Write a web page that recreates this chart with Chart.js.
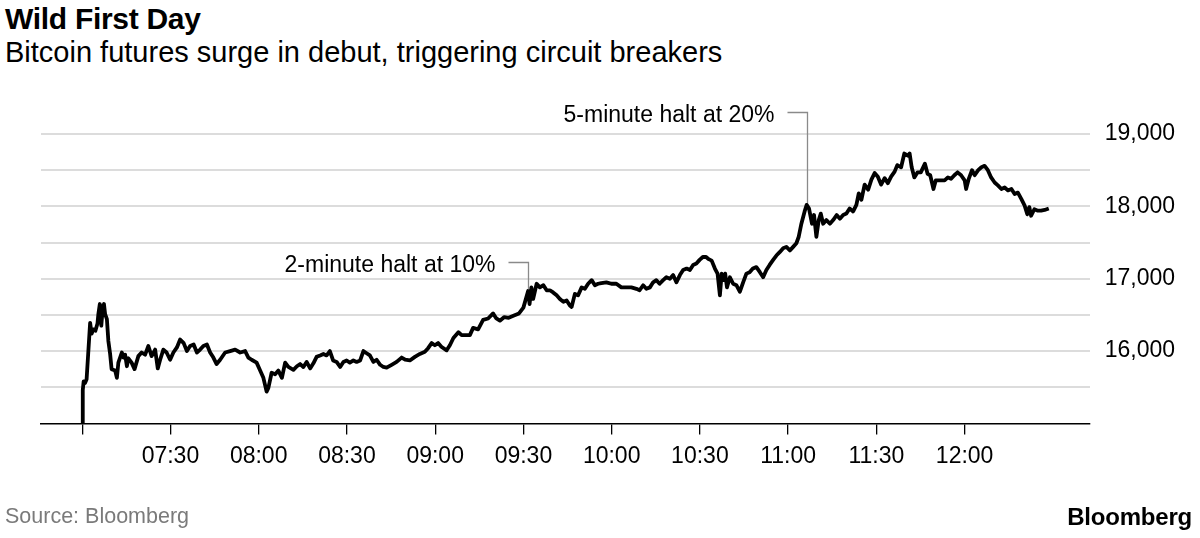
<!DOCTYPE html>
<html>
<head>
<meta charset="utf-8">
<script src="https://cdn.jsdelivr.net/npm/chart.js@4.4.1/dist/chart.umd.min.js"></script>
<style>
    body { margin: 0; width: 1200px; height: 538px; position: relative; background: #fff; font-family: "Liberation Sans", Arial, sans-serif; overflow: hidden; }
    #chart { position: absolute; left: 0; top: 0; }
    .txt { position: absolute; white-space: nowrap; }
    #title { left: 5px; top: 2px; font-size: 30px; font-weight: bold; color: #000; letter-spacing: -0.3px; }
    #subtitle { left: 5px; top: 36px; font-size: 29px; color: #000; }
    #source { left: 5px; top: 504px; font-size: 21.5px; color: #7a7a7a; }
    #logo { right: 8px; top: 503px; font-size: 24px; font-weight: bold; color: #000; letter-spacing: -0.2px; }
</style>
</head>
<body>
<div class="txt" id="title">Wild First Day</div>
<div class="txt" id="subtitle">Bitcoin futures surge in debut, triggering circuit breakers</div>
<canvas id="chart" width="1200" height="538"></canvas>
<div class="txt" id="source">Source: Bloomberg</div>
<div class="txt" id="logo">Bloomberg</div>
<script>
// minutes after 07:00
const minutes = [
    0, 0.2, 0.5, 1, 1.5, 2.1, 2.7, 3.2, 3.8, 4.5, 5.2, 5.5, 6, 6.5, 7, 7.4, 7.8, 8.4, 8.9, 9.5,
    10, 11.2, 11.8, 12.3, 13.5, 14, 14.6, 15.2, 15.7, 16.8, 17.8, 19.1, 20.2, 21.4, 22.5, 23.6, 24.8, 25.7, 26.5, 27.6,
    28.7, 29.9, 31, 32.2, 33.3, 34.5, 35.6, 36.7, 37.9, 39, 40.1, 41.2, 42.4, 43.5, 44.6, 45.7, 46.9, 48.6, 50.3, 52,
    53.7, 55.4, 56.5, 57.6, 59.3, 60.5, 61.6, 62.7, 63.3, 64.4, 65.6, 66.7, 67.9, 69, 70.1, 71.8, 73, 74.1, 75.2, 76.3,
    77.5, 78.6, 79.7, 80.9, 82, 83.1, 84.2, 85.3, 86.5, 87.7, 88.8, 89.9, 91, 92.2, 93.3, 94.5, 95.6, 96.7, 97.8, 99,
    100.1, 101.3, 102.4, 103.5, 105.2, 106.9, 108.6, 109.8, 111.4, 113.1, 114.8, 116.5, 117.6, 118.8, 119.9, 121, 122.1, 123.9, 125, 126.2,
    127.9, 129, 130.7, 131.8, 132.9, 134.6, 136.3, 138, 139.7, 140.8, 142, 143.5, 145, 146.8, 148.5, 150, 151.6, 152.1, 152.7, 153.3,
    154.5, 155.6, 156.8, 157.9, 159, 160.1, 161.3, 162.4, 163.6, 164.7, 165.8, 166.4, 167.5, 168.6, 169.8, 170.9, 172, 173.2, 174.3, 175.4,
    176.5, 178.2, 179.9, 181.6, 183.3, 185, 186.7, 188.4, 189.5, 190.7, 191.8, 193, 194.1, 195.2, 196.3, 197.5, 198.6, 199.8, 200.9, 202,
    203.2, 204.3, 205.5, 206.6, 207.7, 208.8, 209.9, 211, 212.1, 213, 214, 215.1, 216, 216.8, 217.4, 218, 218.6, 219.2, 220.2, 221.3,
    222.4, 223.6, 224.7, 225.8, 226.9, 228, 229.2, 230.4, 231.5, 232.6, 233.7, 234.9, 236, 237.2, 238.3, 239.4, 240.6, 241.7, 242.8, 243.6,
    244.5, 245.6, 246.3, 247.1, 248.1, 248.8, 249.6, 250.4, 251.1, 251.9, 253, 254.2, 255.3, 256.5, 257.6, 258.7, 259.8, 260.9, 262.1, 263.2,
    264, 264.9, 266, 267.2, 268.3, 269.4, 270.5, 271.6, 272.8, 273.9, 275, 276.2, 277.1, 278.4, 279.5, 280.7, 281.3, 282, 282.9, 284,
    285.1, 286.5, 287.4, 288.3, 289.4, 290.2, 291.5, 293.2, 294.3, 295.4, 296.5, 297.6, 298.8, 300, 300.5, 301.4, 302.5, 303.4, 304.6, 305.7,
    306.8, 307.9, 309, 310.2, 311.3, 312.5, 313.6, 314.7, 315.9, 317, 318.1, 319.3, 320.4, 321.3, 322, 322.6, 323.7, 324.9, 326, 327.2,
    328.6
];
const prices = [
    15000, 15460, 15580, 15560, 15610, 16000, 16390, 16240, 16300, 16280, 16380, 16510, 16650, 16350, 16600, 16650, 16510, 16440, 16140, 15960,
    15750, 15730, 15630, 15840, 15980, 15910, 15950, 15790, 15900, 15840, 15750, 15930, 15980, 15950, 16070, 15930, 16020, 15760, 15880, 16020,
    15980, 15880, 15980, 16050, 16160, 16110, 16000, 16070, 16090, 15980, 16020, 16070, 16090, 15980, 15910, 15820, 15880, 15980, 16000, 16020,
    15980, 16000, 15910, 15880, 15840, 15730, 15630, 15440, 15490, 15700, 15680, 15730, 15630, 15840, 15780, 15740, 15790, 15820, 15780, 15850,
    15760, 15830, 15920, 15940, 15960, 15940, 16000, 15870, 15850, 15780, 15850, 15870, 15840, 15870, 15850, 15870, 16000, 15970, 15940, 15850,
    15880, 15810, 15780, 15770, 15810, 15850, 15910, 15880, 15870, 15920, 15960, 15990, 16040, 16110, 16080, 16110, 16060, 16010, 16080, 16180,
    16260, 16220, 16220, 16220, 16320, 16300, 16430, 16450, 16520, 16450, 16420, 16470, 16460, 16490, 16520, 16600, 16830, 16650, 16880, 16720,
    16930, 16880, 16910, 16840, 16840, 16810, 16770, 16720, 16680, 16700, 16630, 16610, 16790, 16770, 16880, 16860, 16930, 16980, 16910, 16930,
    16940, 16950, 16930, 16930, 16880, 16880, 16880, 16860, 16840, 16910, 16860, 16880, 16950, 16980, 16930, 16980, 17020, 17000, 17050, 16950,
    17050, 17120, 17140, 17120, 17190, 17210, 17260, 17300, 17300, 17270, 17250, 17140, 17070, 16770, 17070, 16980, 17070, 16880, 17020, 16930,
    16910, 16820, 16950, 17070, 17090, 17140, 17160, 17090, 17020, 17120, 17190, 17260, 17320, 17370, 17420, 17440, 17390, 17440, 17490, 17580,
    17760, 17930, 18020, 17970, 17760, 17880, 17580, 17810, 17900, 17760, 17810, 17760, 17810, 17880, 17830, 17880, 17900, 17970, 17930, 18020,
    18180, 18090, 18300, 18230, 18370, 18460, 18410, 18300, 18390, 18320, 18410, 18480, 18570, 18540, 18730, 18700, 18730, 18540, 18400, 18470,
    18470, 18590, 18450, 18430, 18240, 18360, 18360, 18360, 18400, 18380, 18430, 18470, 18430, 18360, 18240, 18380, 18500, 18430, 18500, 18540,
    18560, 18500, 18400, 18330, 18290, 18240, 18260, 18220, 18240, 18170, 18190, 18100, 18010, 17890, 17990, 17870, 17960, 17940, 17940, 17950,
    17970
];
const tickMinutes = [0, 30, 60, 90, 120, 150, 180, 210, 240, 270, 300];
const tickLabels = ["", "07:30", "08:00", "08:30", "09:00", "09:30", "10:00", "10:30", "11:00", "11:30", "12:00"];
const priceTicks = [16000, 17000, 18000, 19000];
const halts = [
    { minute: 151.6, price: 16830, label: "2-minute halt at 10%" },
    { minute: 246.3, price: 18020, label: "5-minute halt at 20%" }
];

// leader line heights (px) for each halt note
const haltRise = [27, 91];

const haltNotes = {
    id: "haltNotes",
    afterDatasetsDraw(chart) {
        const ctx = chart.ctx;
        const xs = chart.scales.x, ys = chart.scales.y;
        ctx.save();
        halts.forEach((h, i) => {
            const x = Math.round(xs.getPixelForValue(h.minute)) + 0.5;
            const y = ys.getPixelForValue(h.price) - 2;
            const elbow = Math.round(y - haltRise[i]) + 0.5;
            ctx.strokeStyle = "#8a8a8a";
            ctx.lineWidth = 1.3;
            ctx.beginPath();
            ctx.moveTo(x, y);
            ctx.lineTo(x, elbow);
            ctx.lineTo(x - 20, elbow);
            ctx.stroke();
            ctx.fillStyle = "#000";
            ctx.font = "23px 'Liberation Sans', Arial, sans-serif";
            ctx.textAlign = "right";
            ctx.textBaseline = "middle";
            ctx.fillText(h.label, x - 33, elbow + 3);
        });
        ctx.restore();
    }
};

new Chart(document.getElementById("chart"), {
    type: "line",
    data: {
        datasets: [{
            data: minutes.map((m, i) => ({ x: m, y: prices[i] })),
            borderColor: "#000",
            borderWidth: 3.8,
            pointRadius: 0,
            tension: 0,
            borderJoinStyle: "round",
            fill: false
        }]
    },
    options: {
        responsive: false,
        animation: false,
        layout: { padding: { left: 41, top: 134, right: 10, bottom: 60 } },
        plugins: { legend: { display: false }, tooltip: { enabled: false } },
        scales: {
            x: {
                type: "linear",
                min: -14,
                max: 342.5,
                afterBuildTicks: scale => { scale.ticks = tickMinutes.map(v => ({ value: v })); },
                grid: { drawOnChartArea: false, drawTicks: true, tickLength: 11, color: "#000", lineWidth: 1.3 },
                border: { display: true, color: "#000", width: 1.5 },
                ticks: {
                    autoSkip: false,
                    maxRotation: 0,
                    padding: 8,
                    color: "#000",
                    font: { family: "'Liberation Sans', Arial, sans-serif", size: 23 },
                    callback: value => {
                        const i = tickMinutes.indexOf(value);
                        return i >= 0 ? tickLabels[i] : "";
                    }
                }
            },
            y: {
                position: "right",
                min: 15000,
                max: 19000,
                border: { display: false },
                grid: {
                    drawTicks: false,
                    lineWidth: 2,
                    color: ctx => ctx.tick && ctx.tick.value === 15000 ? "rgba(0,0,0,0)" : "#dcdcdc"
                },
                ticks: {
                    stepSize: 500,
                    padding: 15,
                    color: "#000",
                    font: { family: "'Liberation Sans', Arial, sans-serif", size: 23 },
                    callback: value => priceTicks.includes(value) ? value.toLocaleString("en-US") : ""
                }
            }
        }
    },
    plugins: [haltNotes]
});
</script>
</body>
</html>
